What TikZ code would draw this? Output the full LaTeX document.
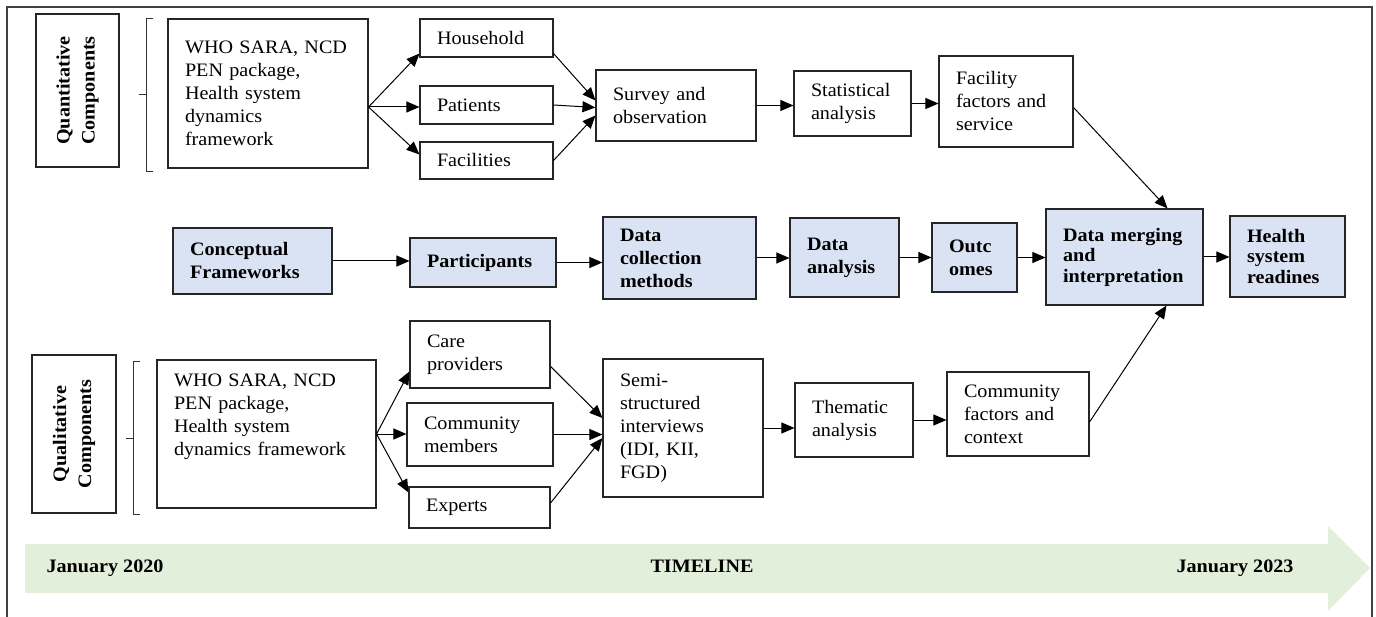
\documentclass[tikz,border=0pt]{standalone}
\usepackage{fontspec}
\setmainfont{Liberation Serif}[FakeStretch=1.06]
\usetikzlibrary{arrows.meta}
\definecolor{keyblue}{HTML}{DAE3F3}
\definecolor{timegreen}{HTML}{E2EFDA}

\begin{document}
\begin{tikzpicture}[x=1pt, y=-1pt, line width=1.1pt, >={Triangle[length=13pt, width=11pt]},
  box/.style={draw=black!85, fill=white, align=left, inner xsep=17pt, inner ysep=2pt, font=\fontsize{19}{23}\selectfont},
  keybox/.style={box, fill=keyblue, font=\fontsize{19}{23}\selectfont\bfseries},
  sidebox/.style={box, align=center, rotate=90, inner xsep=4pt, font=\fontsize{19}{25}\selectfont\bfseries},
  link/.style={->, line width=1pt, black},
  tltext/.style={font=\fontsize{19}{23}\selectfont\bfseries, inner sep=0pt}]
\useasboundingbox (0,0) rectangle (1376,617);
\draw[black!75] (7,640) -- (7,7) -- (1372,7) -- (1372,640);

\node[sidebox, minimum width=153pt, minimum height=83pt] (quant) at (77.5,90.5) {Quantitative\\Components};
\draw[black!80, line width=1pt] (153,19) -- (146,19) -- (146,172) -- (153,172);
\draw[black!80, line width=1pt] (139,95) -- (146,95);
\node[box, text width=166pt, minimum height=149pt] (whoA) at (268,93.5) {WHO SARA, NCD\\PEN package,\\Health system\\dynamics\\framework};
\node[box, text width=99pt, minimum height=38pt] (house) at (486.5,38) {Household};
\node[box, text width=99pt, minimum height=38pt] (pat) at (486.5,105) {Patients};
\node[box, text width=99pt, minimum height=37pt] (fac) at (486.5,160.5) {Facilities};
\node[box, text width=126pt, minimum height=71pt] (surv) at (676,105.5) {Survey and\\observation};
\node[box, text width=83pt, minimum height=65pt] (stat) at (852.5,103.5) {Statistical\\analysis};
\node[box, text width=100pt, minimum height=91pt] (fff) at (1006,101.5) {Facility\\factors and\\service};

\node[keybox, text width=125pt, minimum height=66pt] (conc) at (252.5,261) {Conceptual\\Frameworks};
\node[keybox, text width=112pt, minimum height=49pt] (part) at (483,262.5) {Participants};
\node[keybox, text width=119pt, minimum height=82pt] (dcm) at (679.5,258) {Data\\collection\\methods};
\node[keybox, text width=75pt, minimum height=79pt] (da) at (844.5,257.5) {Data\\analysis};
\node[keybox, text width=51pt, minimum height=69pt] (outc) at (974.5,257.5) {Outc\\omes};
\node[keybox, text width=123pt, minimum height=96pt, font=\fontsize{19}{20.5}\selectfont\bfseries] (merge) at (1124.5,257) {Data merging\\and\\interpretation};
\node[keybox, text width=81pt, minimum height=81pt, font=\fontsize{19}{20.5}\selectfont\bfseries] (health) at (1287.5,256.5) {Health\\system\\readines};

\node[sidebox, minimum width=158pt, minimum height=84pt] (qual) at (74,434) {Qualitative\\Components};
\draw[black!80, line width=1pt] (140,362) -- (133,362) -- (133,514) -- (140,514);
\draw[black!80, line width=1pt] (126,438) -- (133,438);
\node[box, text width=185pt, minimum height=148pt] (whoB) at (266.5,434) {WHO SARA, NCD\\PEN package,\\Health system\\dynamics framework\\[16pt]\mbox{}};
\node[box, text width=106pt, minimum height=67pt] (care) at (480,354.5) {Care\\providers};
\node[box, text width=112pt, minimum height=63pt] (comm) at (480,434.5) {Community\\members};
\node[box, text width=107pt, minimum height=41pt] (exp) at (479.5,507.5) {Experts};
\node[box, text width=126pt, minimum height=138pt] (semi) at (683,428) {Semi-\\structured\\interviews\\(IDI, KII,\\FGD)};
\node[box, text width=84pt, minimum height=74pt] (them) at (854,420) {Thematic\\analysis};
\node[box, text width=108pt, minimum height=84pt] (cfc) at (1018,414) {Community\\factors and\\context};

\coordinate (forkA) at ([yshift=-13.5pt]whoA.east);
\draw[link] (forkA) -- ([yshift=4pt]house.south west);
\draw[link] (forkA) -- (forkA -| pat.west);
\draw[link] (forkA) -- ([yshift=6pt]fac.west);
\draw[link] ([yshift=4pt]house.south east) -- ([yshift=5pt]surv.west);
\draw[link] (pat.east) -- ([yshift=-2pt]surv.west);
\draw[link] (fac.east) -- ([yshift=-10pt]surv.west);
\draw[link] (surv.east) -- (surv.east -| stat.west);
\draw[link] (stat.east) -- (stat.east -| fff.west);
\draw[link] ([yshift=-6pt]fff.east) -- ([xshift=43pt]merge.north);

\draw[link] (conc.east) -- (conc.east -| part.west);
\draw[link] (part.east) -- (part.east -| dcm.west);
\draw[link] (dcm.east) -- (dcm.east -| da.west);
\draw[link] (da.east) -- (da.east -| outc.west);
\draw[link] (outc.east) -- (outc.east -| merge.west);
\draw[link] (merge.east) -- (merge.east -| health.west);

\draw[link] (whoB.east) -- ([yshift=-17pt]care.west);
\draw[link] (whoB.east) -- (whoB.east -| comm.west);
\draw[link] (whoB.east) -- ([yshift=15pt]exp.west);
\draw[link] ([yshift=-12pt]care.east) -- ([yshift=10pt]semi.west);
\draw[link] (comm.east) -- (comm.east -| semi.west);
\draw[link] ([yshift=4.5pt]exp.east) -- ([yshift=-10pt]semi.west);
\draw[link] (semi.east) -- (semi.east -| them.west);
\draw[link] (them.east) -- (them.east -| cfc.west);
\draw[link] ([yshift=-8pt]cfc.east) -- ([xshift=42pt]merge.south);

\fill[timegreen] (25,544) -- (1328,544) -- (1328,526) -- (1370,568) -- (1328,611) -- (1328,593) -- (25,593) -- cycle;
\node[tltext, anchor=west] (start) at (46,568) {January 2020};
\node[tltext] (tl) at (702,566) {TIMELINE};
\node[tltext, anchor=east] (stop) at (1294,568) {January 2023};
\end{tikzpicture}
\end{document}
